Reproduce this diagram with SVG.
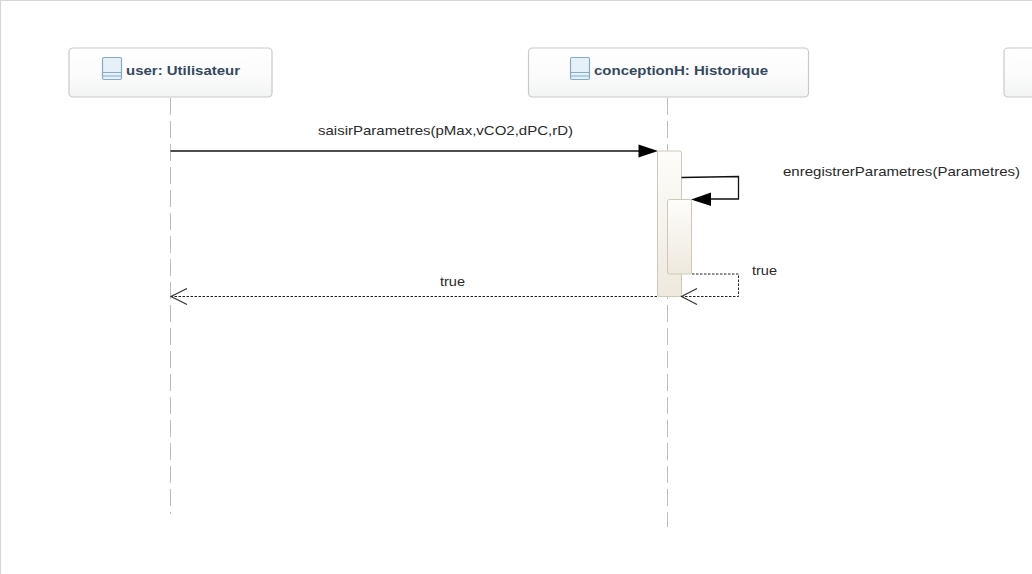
<svg xmlns="http://www.w3.org/2000/svg" width="1032" height="574" viewBox="0 0 1032 574">
<style>
text{font-family:"Liberation Sans",Arial,sans-serif}
.lbl{font-size:13px;fill:#2a2a2a}
.name{font-size:13px;font-weight:bold;fill:#34495e}
.box{fill:url(#nodeFill);stroke:#c8c9ca;stroke-width:1.2}
.life{stroke:#bdbdbd;stroke-width:1;stroke-dasharray:17 6;fill:none}
.act{fill:url(#actFill);stroke:#cdc8ba;stroke-width:1}
.sync{stroke:#111;stroke-width:1.3;fill:none}
.ret{stroke:#222;stroke-width:1;stroke-dasharray:2.5 1.5;fill:none}
.open{stroke:#333;stroke-width:1.200;fill:none}
.ico{fill:#e6f0f8;stroke:#86abc9;stroke-width:1.2}
</style>
<defs>
<linearGradient id="nodeFill" x1="0" y1="0" x2="0" y2="1"><stop offset="0" stop-color="#fff"/><stop offset="0.6" stop-color="#fbfbfb"/><stop offset="1" stop-color="#f2f3f3"/></linearGradient>
<linearGradient id="actFill" x1="0" y1="0" x2="0" y2="1"><stop offset="0" stop-color="#fefdfb"/><stop offset="1" stop-color="#eee9dd"/></linearGradient>
<g id="icon"><rect class="ico" x="0" y="0" width="19" height="22" rx="1.5"/><path d="M0 15H19M0 18.500H19" stroke="#86abc9" stroke-width="1.100" fill="none"/></g>
</defs>
<rect width="1032" height="574" fill="#fff"/>
<path d="M0.500 574V0.500H1032" fill="none" stroke="#d4d7da" stroke-width="1.200"/>
<g id="lifelines">
<path class="life" d="M170.500 98V514"/>
<path class="life" d="M667.500 98V527"/>
</g>
<g id="node-user">
<rect class="box" x="69" y="48" width="203" height="49" rx="4"/>
<use href="#icon" x="102.500" y="57.500"/>
<text class="name" x="126" y="75" textLength="114" lengthAdjust="spacingAndGlyphs">user: Utilisateur</text>
</g>
<g id="node-conceptionH">
<rect class="box" x="528.500" y="48" width="280" height="49" rx="4"/>
<use href="#icon" x="570.500" y="57.500"/>
<text class="name" x="594" y="75" textLength="174" lengthAdjust="spacingAndGlyphs">conceptionH: Historique</text>
</g>
<g id="node-offscreen">
<rect class="box" x="1004" y="48" width="60" height="49" rx="4"/>
</g>
<g id="activation-outer"><rect class="act" x="657.500" y="151" width="24" height="145.500" rx="2"/></g>
<g id="activation-inner"><rect class="act" x="667.500" y="199.500" width="24" height="74.500" rx="2"/></g>
<g id="connectors">
<path class="sync" d="M170.500 151H642"/>
<path d="M638.500 144.500L658 151L638.500 157.500Z" fill="#000"/>
<path class="sync" d="M681.500 177.500L738.500 176.500V199H708"/>
<path d="M711 192.500L691 199.500L711 206Z" fill="#000"/>
<path class="ret" d="M692 274H738.500V296.500H682"/>
<path class="open" d="M697 288.500L681.500 296.500L697 304.500"/>
<path class="ret" d="M657 296.500H171"/>
<path class="open" d="M187 288.500L171 296.500L187 304.500"/>
</g>
<g id="labels">
<text class="lbl" x="318" y="135" textLength="255" lengthAdjust="spacingAndGlyphs">saisirParametres(pMax,vCO2,dPC,rD)</text>
<text class="lbl" x="783" y="176" textLength="237" lengthAdjust="spacingAndGlyphs">enregistrerParametres(Parametres)</text>
<text class="lbl" x="752" y="275" textLength="25" lengthAdjust="spacingAndGlyphs">true</text>
<text class="lbl" x="440" y="286" textLength="25" lengthAdjust="spacingAndGlyphs">true</text>
</g>
</svg>
